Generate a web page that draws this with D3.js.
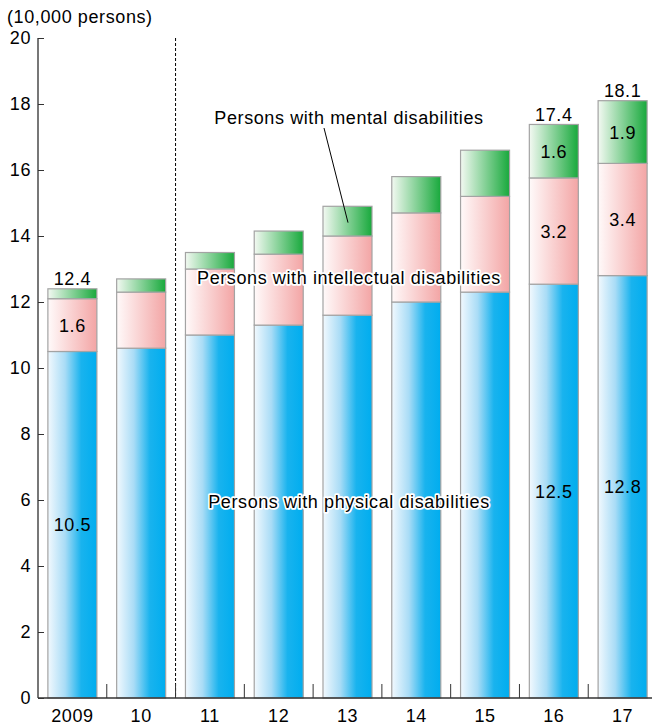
<!DOCTYPE html>
<html>
<head>
<meta charset="utf-8">
<script src="https://cdn.jsdelivr.net/npm/d3@7/dist/d3.min.js"></script>
<style>
  html, body { margin: 0; padding: 0; background: #fff; }
  svg { display: block; font-family: "Liberation Sans", Arial, Helvetica, sans-serif; }
  svg text { letter-spacing: 0.6px; }
</style>
</head>
<body>
<svg id="chart" width="656" height="727"></svg>
<script>
// Employed persons with disabilities, by type (unit: 10,000 persons)
const years = ["2009", "10", "11", "12", "13", "14", "15", "16", "17"];
const physical     = [10.5, 10.6, 11.0, 11.3, 11.6, 12.0, 12.3, 12.54, 12.8];
const intellectual = [1.6, 1.7, 2.0, 2.15, 2.4, 2.7, 2.9, 3.22, 3.4];
const mental       = [0.3, 0.4, 0.5, 0.7, 0.9, 1.1, 1.4, 1.62, 1.9];
const yTicks = [0, 2, 4, 6, 8, 10, 12, 14, 16, 18, 20];

// which bars carry value labels
const labelledSegments = {
  physical: ["2009", "16", "17"],
  intellectual: ["2009", "16", "17"],
  mental: ["16", "17"]
};
const labelledTotals = ["2009", "16", "17"];

const seriesKeys = ["physical", "intellectual", "mental"];
const rows = years.map((yr, i) => ({
  year: yr,
  physical: physical[i],
  intellectual: intellectual[i],
  mental: mental[i]
}));

const svg = d3.select("#chart");
const plotLeft = 38, plotRight = 657, plotTop = 38, plotBottom = 698;
const fs = 18;

const x = d3.scaleBand().domain(years).range([plotLeft, plotRight]).paddingInner(0).paddingOuter(0);
const y = d3.scaleLinear().domain([0, 20]).range([plotBottom, plotTop]);
const barW = 49;

// gradients: light on the left, saturated on the right
const defs = svg.append("defs");
function grad(id, stops) {
  const g = defs.append("linearGradient").attr("id", id)
    .attr("x1", "0%").attr("x2", "100%").attr("y1", "0%").attr("y2", "0%");
  stops.forEach(([o, c]) => g.append("stop").attr("offset", o).attr("stop-color", c));
}
grad("g-physical", [["0%", "#f2f9fe"], ["35%", "#a9dcf6"], ["68%", "#19b3ee"], ["100%", "#00adef"]]);
grad("g-intellectual", [["0%", "#fffafa"], ["100%", "#f3a5a5"]]);
grad("g-mental", [["0%", "#f3f9f2"], ["100%", "#18a93c"]]);

const stack = d3.stack().keys(seriesKeys)(rows);

// stacked bars
const layers = svg.append("g").selectAll("g").data(stack).join("g")
  .attr("fill", d => `url(#g-${d.key})`);
layers.selectAll("rect").data(d => d).join("rect")
  .attr("x", d => x(d.data.year) + (x.bandwidth() - barW) / 2)
  .attr("y", d => y(d[1]))
  .attr("width", barW)
  .attr("height", d => y(d[0]) - y(d[1]))
  .attr("stroke", "#a3a3a3")
  .attr("stroke-width", 1.2);

// dashed divider between 2010 and 2011
svg.append("line")
  .attr("x1", x("11")).attr("x2", x("11"))
  .attr("y1", plotTop).attr("y2", plotBottom)
  .attr("stroke", "#000").attr("stroke-width", 1)
  .attr("stroke-dasharray", "3,2");

// y axis
const yAxis = svg.append("g").attr("transform", `translate(${plotLeft},0)`)
  .call(d3.axisRight(y).tickValues(yTicks).tickSize(6).tickFormat(""));
yAxis.select(".domain").attr("stroke", "#777").attr("stroke-width", 2).attr("d", `M0,${plotTop}V${plotBottom}`);
yAxis.selectAll(".tick line").attr("stroke", "#333").attr("stroke-width", 1);

svg.append("g").selectAll("text").data(yTicks).join("text")
  .attr("x", 31).attr("y", d => y(d)).attr("dy", "0.36em")
  .attr("text-anchor", "end").attr("font-size", fs).attr("fill", "#000")
  .text(d => d);

// x axis baseline and separators between categories
svg.append("line")
  .attr("x1", plotLeft).attr("x2", plotRight - 5).attr("y1", plotBottom).attr("y2", plotBottom)
  .attr("stroke", "#333").attr("stroke-width", 1.5);
svg.append("g").selectAll("line").data(years.slice(1)).join("line")
  .attr("x1", d => x(d)).attr("x2", d => x(d))
  .attr("y1", plotBottom - 14).attr("y2", plotBottom)
  .attr("stroke", "#333").attr("stroke-width", 1);

svg.append("g").selectAll("text").data(years).join("text")
  .attr("x", d => x(d) + x.bandwidth() / 2).attr("y", 716).attr("dy", "0.36em")
  .attr("text-anchor", "middle").attr("font-size", fs).attr("fill", "#000")
  .text(d => d);

// unit label
svg.append("text").attr("x", 7).attr("y", 17).attr("dy", "0.36em")
  .attr("font-size", fs).attr("fill", "#000").text("(10,000 persons)");

const fmt = d3.format(".1f");

// segment value labels, centred in their segment
stack.forEach(layer => {
  const keep = labelledSegments[layer.key];
  svg.append("g").selectAll("text").data(layer.filter(d => keep.includes(d.data.year))).join("text")
    .attr("x", d => x(d.data.year) + x.bandwidth() / 2)
    .attr("y", d => (y(d[0]) + y(d[1])) / 2)
    .attr("dy", "0.36em")
    .attr("text-anchor", "middle").attr("font-size", fs).attr("fill", "#000")
    .text(d => fmt(d[1] - d[0]));
});

// totals above bars
svg.append("g").selectAll("text").data(rows.filter(r => labelledTotals.includes(r.year))).join("text")
  .attr("x", d => x(d.year) + x.bandwidth() / 2)
  .attr("y", d => y(d.physical + d.intellectual + d.mental) - 10)
  .attr("dy", "0.36em")
  .attr("text-anchor", "middle").attr("font-size", fs).attr("fill", "#000")
  .text(d => fmt(d.physical + d.intellectual + d.mental));

// series annotations with white halo
function haloText(txt, cx, cy) {
  const g = svg.append("g");
  g.append("text").attr("x", cx).attr("y", cy).attr("dy", "0.36em")
    .attr("text-anchor", "middle").attr("font-size", fs)
    .attr("fill", "none").attr("stroke", "#fff").attr("stroke-width", 3.5)
    .attr("stroke-linejoin", "round").text(txt);
  g.append("text").attr("x", cx).attr("y", cy).attr("dy", "0.36em")
    .attr("text-anchor", "middle").attr("font-size", fs).attr("fill", "#000").text(txt);
}

// leader from the mental-disabilities label into the 2013 bar
const i13 = years.indexOf("13");
svg.append("line")
  .attr("x1", 324).attr("y1", 128)
  .attr("x2", x("13") + x.bandwidth() / 2 + 0.5)
  .attr("y2", y(physical[i13] + intellectual[i13] + mental[i13] * 0.45))
  .attr("stroke", "#000").attr("stroke-width", 1);

haloText("Persons with mental disabilities", 349, 118);
haloText("Persons with intellectual disabilities", 349, 278);
haloText("Persons with physical disabilities", 349, 502);
</script>
</body>
</html>
